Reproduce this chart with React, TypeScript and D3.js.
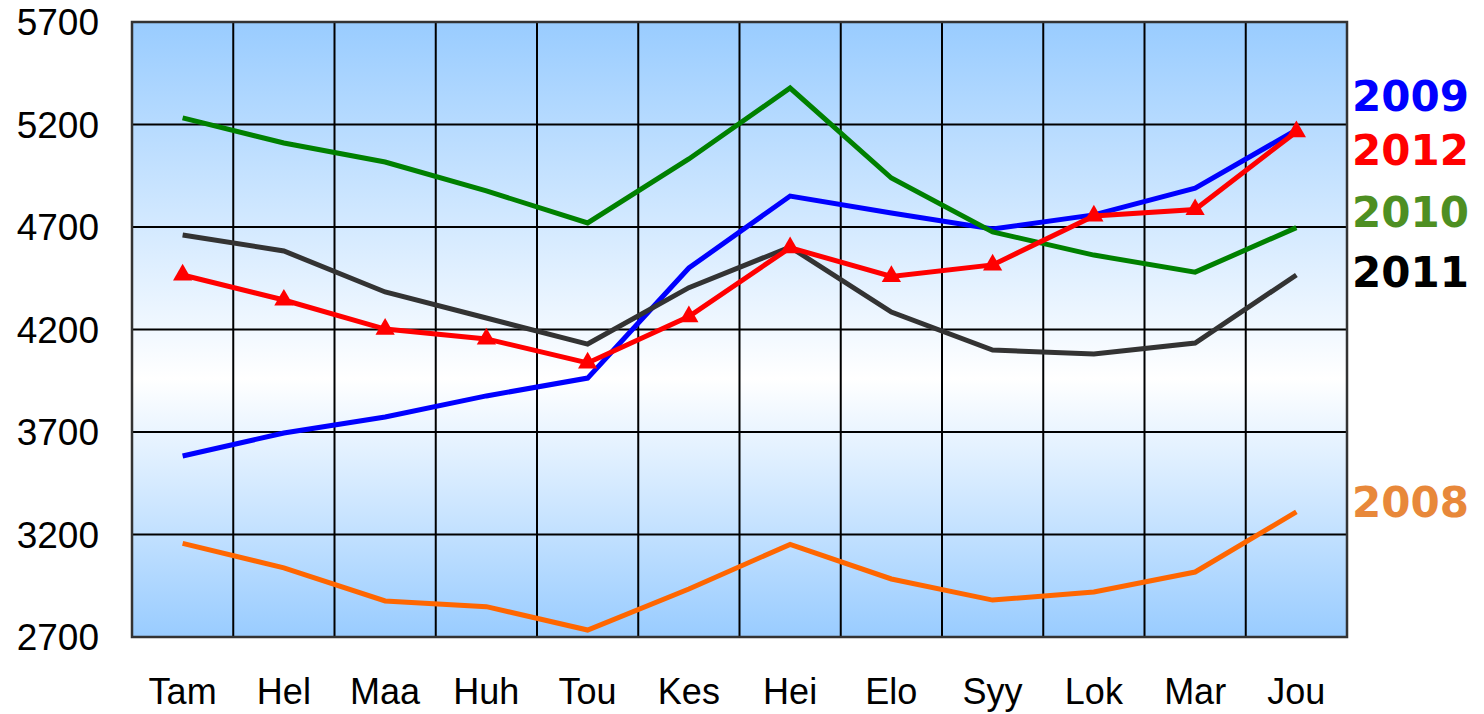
import React from "react";
import * as d3 from "d3";

const months = ["Tam", "Hel", "Maa", "Huh", "Tou", "Kes", "Hei", "Elo", "Syy", "Lok", "Mar", "Jou"];
const yTicks = [2700, 3200, 3700, 4200, 4700, 5200, 5700];

const s2008 = [3157, 3037, 2876, 2848, 2734, 2934, 3152, 2983, 2880, 2920, 3017, 3310];
const s2009 = [3583, 3695, 3773, 3876, 3963, 4500, 4851, 4768, 4690, 4759, 4890, 5173];
const s2010 = [5232, 5110, 5017, 4876, 4720, 5032, 5378, 4939, 4676, 4563, 4480, 4697];
const s2011 = [4661, 4583, 4383, 4256, 4129, 4404, 4602, 4285, 4100, 4080, 4134, 4466];
const s2012 = [4466, 4344, 4202, 4154, 4037, 4263, 4599, 4459, 4515, 4754, 4785, 5165];

const series = [
  { name: "2008", values: s2008, color: "#FF6600", marker: false },
  { name: "2009", values: s2009, color: "#0000FF", marker: false },
  { name: "2010", values: s2010, color: "#008000", marker: false },
  { name: "2011", values: s2011, color: "#333333", marker: false },
  { name: "2012", values: s2012, color: "#FF0000", marker: true },
];

const legend = [
  { name: "2009", color: "#0000FF", y: 111 },
  { name: "2012", color: "#FF0000", y: 165 },
  { name: "2010", color: "#4E8F22", y: 227 },
  { name: "2011", color: "#000000", y: 287 },
  { name: "2008", color: "#E8883A", y: 517 },
];

export default function App() {
  const W = 1484, H = 714;
  const left = 132, right = 1347, top = 22, bottom = 637;
  const x = d3.scaleBand<string>().domain(months).range([left, right]);
  const y = d3.scaleLinear().domain([2700, 5700]).range([bottom, top]);
  const line = d3
    .line<number>()
    .x((_, i) => (x(months[i]) as number) + x.bandwidth() / 2)
    .y((d) => y(d));
  const tri = d3.symbol().type(d3.symbolTriangle).size(160)();

  return (
    <svg width={W} height={H} style={{ position: "absolute", left: 0, top: 0 }}>
      <defs>
        <linearGradient id="bg" x1="0" y1="0" x2="0" y2="1">
          <stop offset="0" stopColor="#99CCFF" />
          <stop offset="0.58" stopColor="#FFFFFF" />
          <stop offset="1" stopColor="#99CCFF" />
        </linearGradient>
      </defs>
      <rect x={left} y={top} width={right - left} height={bottom - top} fill="url(#bg)" />
      {yTicks.map((t) => (
        <line key={"h" + t} x1={left} x2={right} y1={y(t)} y2={y(t)} stroke="#000" strokeWidth={2} />
      ))}
      {months.map((m) => (
        <line key={"v" + m} x1={x(m) as number} x2={x(m) as number} y1={top} y2={bottom} stroke="#000" strokeWidth={2} />
      ))}
      <rect x={left} y={top} width={right - left} height={bottom - top} fill="none" stroke="#333" strokeWidth={2.5} />
      {series.map((s) => (
        <g key={s.name}>
          <path d={line(s.values) || ""} fill="none" stroke={s.color} strokeWidth={5} strokeLinejoin="miter" />
          {s.marker &&
            s.values.map((v, i) => (
              <path
                key={i}
                d={tri || ""}
                transform={`translate(${(x(months[i]) as number) + x.bandwidth() / 2},${y(v)})`}
                fill={s.color}
              />
            ))}
        </g>
      ))}
      {yTicks.map((t) => (
        <text
          key={"yt" + t}
          x={99}
          y={y(t)}
          dy="0.36em"
          textAnchor="end"
          fontFamily="'Liberation Sans', Arial, sans-serif"
          fontSize={37}
          fill="#000"
        >
          {t}
        </text>
      ))}
      {months.map((m) => (
        <text
          key={"xt" + m}
          x={(x(m) as number) + x.bandwidth() / 2}
          y={704}
          textAnchor="middle"
          fontFamily="'Liberation Sans', Arial, sans-serif"
          fontSize={36}
          fill="#000"
        >
          {m}
        </text>
      ))}
      {legend.map((l) => (
        <text
          key={"lg" + l.name}
          x={1352}
          y={l.y}
          fontFamily="'DejaVu Sans', Verdana, sans-serif"
          fontWeight="bold"
          fontSize={42}
          fill={l.color}
        >
          {l.name}
        </text>
      ))}
    </svg>
  );
}
